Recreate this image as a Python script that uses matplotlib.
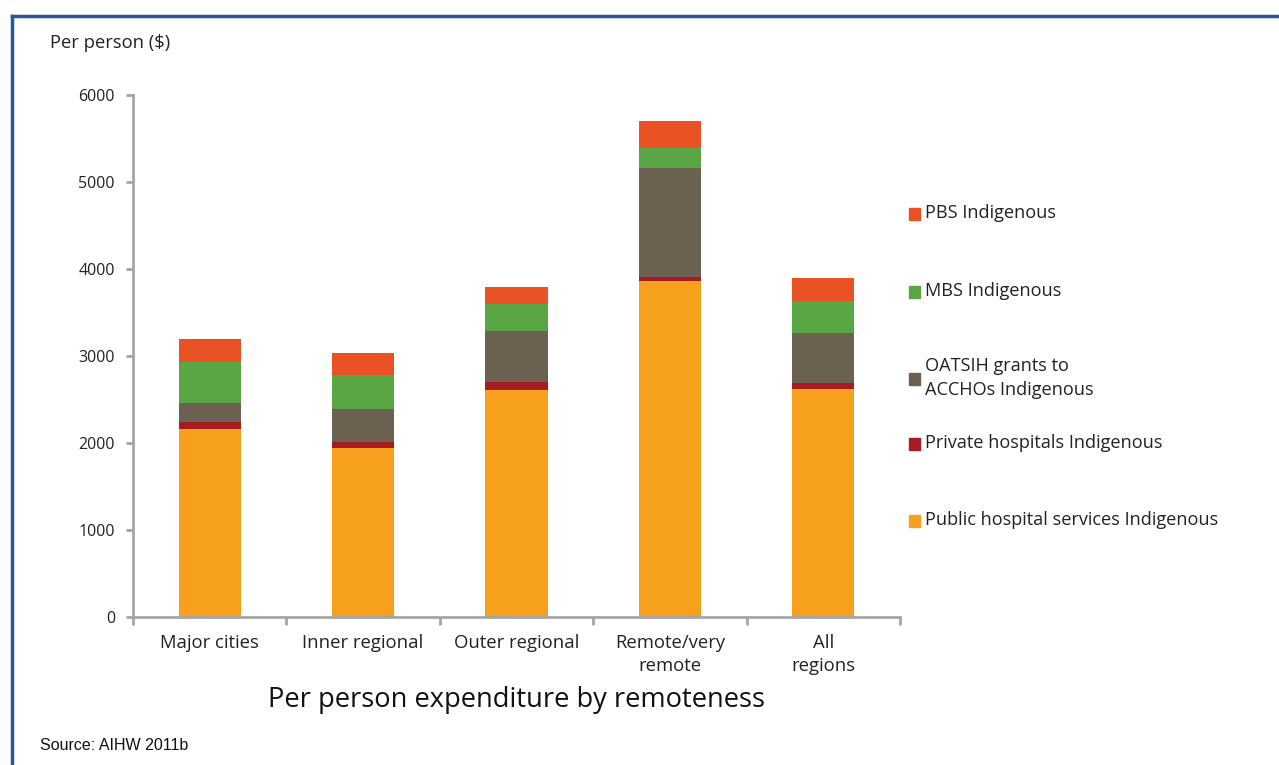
import matplotlib.pyplot as plt
from matplotlib.lines import Line2D

# Data (per person $)
regions = ['Major cities', 'Inner regional', 'Outer regional', 'Remote/very\nremote', 'All\nregions']
public_hosp = [2165, 1943, 2605, 3866, 2617]
private_hosp = [76, 68, 100, 42, 73]
oatsih = [222, 376, 586, 1253, 578]
mbs = [472, 395, 311, 233, 364]
pbs = [260, 256, 195, 307, 265]

series = [
    ('Public hospital services Indigenous', public_hosp, '#f7a01e'),
    ('Private hospitals Indigenous', private_hosp, '#a51c22'),
    ('OATSIH grants to\nACCHOs Indigenous', oatsih, '#6b6151'),
    ('MBS Indigenous', mbs, '#5aa645'),
    ('PBS Indigenous', pbs, '#e95224'),
]

plt.rcParams['font.family'] = ['Open Sans', 'DejaVu Sans']

fig = plt.figure(figsize=(12.79, 7.65), dpi=100)
ax = fig.add_axes([133/1279, 1 - 617/765, (900-133)/1279, (617-95)/765])

x = range(len(regions))
bottom = [0] * len(regions)
for name, vals, col in series:
    ax.bar(x, vals, width=0.405, bottom=bottom, color=col, label=name)
    bottom = [b + v for b, v in zip(bottom, vals)]

ax.set_xlim(-0.5, len(regions) - 0.5)
ax.set_ylim(0, 6000)
ax.set_yticks(range(0, 6001, 1000))
ax.tick_params(axis='y', length=5, width=2, color='#a6a6a6', labelsize=11.5, labelcolor='#222222', pad=8)

# category labels between boundary ticks
ax.set_xticks([i - 0.5 for i in range(len(regions) + 1)])
ax.set_xticklabels([])
ax.tick_params(axis='x', length=6, width=2, color='#a6a6a6')
for i, lab in enumerate(regions):
    ax.text(i, -190, lab, ha='center', va='top', fontsize=13.3, color='#222222', linespacing=1.4)

for s in ['top', 'right']:
    ax.spines[s].set_visible(False)
for s in ['left', 'bottom']:
    ax.spines[s].set_color('#a6a6a6')
    ax.spines[s].set_linewidth(2)

# legend (top-down order as in the chart)
legend_y = [213, 291, 378, 443, 520]
for (name, vals, col), yy in zip(series, legend_y[::-1]):
    fy = 1 - yy/765
    fig.patches.append(plt.Rectangle((909/1279, fy - 7/765), 11/1279, 12/765,
                                     transform=fig.transFigure, color=col))
    fig.text(925/1279, fy, name, ha='left', va='center', fontsize=13.1,
             color='#222222', linespacing=1.4)

fig.text(50/1279, 1 - 43/765, 'Per person ($)', ha='left', va='center', fontsize=13.2, color='#222222')
fig.text(517/1279, 1 - 700/765, 'Per person expenditure by remoteness', ha='center', va='center',
         fontsize=19.6, color='#111111')
fig.text(40/1279, 1 - 746/765, 'Source: AIHW 2011b', ha='left', va='center', fontsize=11.5,
         color='#111111', family=['Liberation Sans Narrow', 'Liberation Sans', 'DejaVu Sans'])

# blue frame
fig.add_artist(Line2D([11.5/1279, 1], [1 - 16/765, 1 - 16/765], transform=fig.transFigure,
                      color='#2a5597', lw=2.5))
fig.add_artist(Line2D([11.5/1279, 11.5/1279], [1 - 16/765, 0], transform=fig.transFigure,
                      color='#2a5597', lw=2.5))

fig.savefig('out.png', dpi=100)
